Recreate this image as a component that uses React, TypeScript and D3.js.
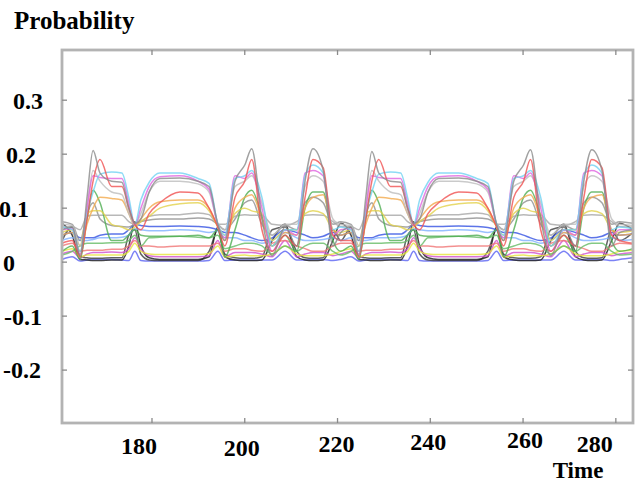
import React from 'react';
import * as d3 from 'd3';

const W = 638;
const H = 482;

// time knots (two repeating cycles)
const timeKnots = [
  160.6, 162.8, 164.5, 166.0, 167.3, 168.8, 171.3, 173.5, 175.0, 176.3, 177.6, 179.4, 181.7, 186.0, 189.9,
  192.3, 194.2, 195.7, 197.9, 200.0, 201.5, 203.7, 205.9, 208.7, 211.2, 213.0, 214.7, 216.9, 219.0, 220.7,
  222.9, 224.6, 226.1, 227.4, 228.9, 231.4, 233.6, 235.1, 236.4, 237.7, 239.5, 241.8, 246.1, 250.0, 252.4,
  254.3, 255.8, 258.0, 260.1, 261.6, 263.8, 266.0, 268.8, 271.3, 273.1, 274.8, 277.0, 279.1, 280.8, 283.7,
];

const sSpike = [
  0.060, 0.065, 0.012, 0.120, 0.207, 0.165, 0.150, 0.148, 0.100, 0.072, 0.080, 0.130, 0.155, 0.156, 0.150,
  0.140, 0.070, 0.040, 0.150, 0.180, 0.210, 0.080, 0.012, 0.065, 0.030, 0.150, 0.210, 0.170, 0.030, 0.055,
  0.065, 0.012, 0.120, 0.205, 0.165, 0.150, 0.148, 0.100, 0.072, 0.080, 0.130, 0.155, 0.156, 0.150, 0.140,
  0.070, 0.040, 0.150, 0.180, 0.208, 0.080, 0.012, 0.065, 0.030, 0.150, 0.208, 0.170, 0.030, 0.055, 0.060,
];
const sRed = [
  0.035, 0.040, 0.010, 0.080, 0.150, 0.190, 0.140, 0.140, 0.100, 0.070, 0.060, 0.090, 0.110, 0.130, 0.128,
  0.100, 0.065, 0.030, 0.120, 0.150, 0.190, 0.060, 0.020, 0.050, 0.030, 0.120, 0.190, 0.175, 0.050, 0.040,
  0.040, 0.010, 0.080, 0.150, 0.190, 0.140, 0.140, 0.100, 0.070, 0.060, 0.090, 0.110, 0.130, 0.128, 0.100,
  0.065, 0.030, 0.120, 0.150, 0.190, 0.060, 0.020, 0.050, 0.030, 0.120, 0.190, 0.175, 0.050, 0.040, 0.035,
];
const sCyan = [
  0.065, 0.060, 0.020, 0.090, 0.130, 0.163, 0.167, 0.165, 0.120, 0.070, 0.115, 0.148, 0.165, 0.165, 0.155,
  0.146, 0.070, 0.050, 0.155, 0.160, 0.170, 0.120, 0.030, 0.060, 0.060, 0.160, 0.180, 0.165, 0.060, 0.065,
  0.060, 0.020, 0.090, 0.130, 0.163, 0.167, 0.165, 0.120, 0.070, 0.115, 0.148, 0.165, 0.165, 0.155, 0.146,
  0.070, 0.050, 0.155, 0.160, 0.170, 0.120, 0.030, 0.060, 0.060, 0.160, 0.180, 0.165, 0.060, 0.065, 0.062,
];
const sMagenta = [
  0.060, 0.062, 0.015, 0.100, 0.160, 0.157, 0.155, 0.155, 0.110, 0.068, 0.100, 0.140, 0.158, 0.160, 0.150,
  0.135, 0.068, 0.045, 0.160, 0.155, 0.165, 0.100, 0.020, 0.060, 0.050, 0.165, 0.170, 0.160, 0.050, 0.060,
  0.062, 0.015, 0.100, 0.160, 0.157, 0.155, 0.155, 0.110, 0.068, 0.100, 0.140, 0.158, 0.160, 0.150, 0.135,
  0.068, 0.045, 0.160, 0.155, 0.165, 0.100, 0.020, 0.060, 0.050, 0.165, 0.170, 0.160, 0.050, 0.060, 0.060,
];
const sGrayLight = [
  0.070, 0.068, 0.030, 0.100, 0.170, 0.150, 0.130, 0.125, 0.090, 0.070, 0.090, 0.130, 0.150, 0.150, 0.145,
  0.130, 0.072, 0.060, 0.140, 0.150, 0.160, 0.110, 0.050, 0.070, 0.070, 0.140, 0.160, 0.150, 0.080, 0.070,
  0.068, 0.030, 0.100, 0.170, 0.150, 0.130, 0.125, 0.090, 0.070, 0.090, 0.130, 0.150, 0.150, 0.145, 0.130,
  0.072, 0.060, 0.140, 0.150, 0.160, 0.110, 0.050, 0.070, 0.070, 0.140, 0.160, 0.150, 0.080, 0.070, 0.068,
];
const sOrange = [
  0.050, 0.055, 0.020, 0.070, 0.100, 0.120, 0.118, 0.115, 0.090, 0.068, 0.080, 0.100, 0.112, 0.115, 0.115,
  0.100, 0.065, 0.040, 0.100, 0.120, 0.125, 0.080, 0.030, 0.055, 0.050, 0.100, 0.120, 0.125, 0.060, 0.050,
  0.055, 0.020, 0.070, 0.100, 0.120, 0.118, 0.115, 0.090, 0.068, 0.080, 0.100, 0.112, 0.115, 0.115, 0.100,
  0.065, 0.040, 0.100, 0.120, 0.125, 0.080, 0.030, 0.055, 0.050, 0.100, 0.120, 0.125, 0.060, 0.050, 0.052,
];
const sYellow = [
  0.055, 0.060, 0.030, 0.090, 0.095, 0.095, 0.070, 0.065, 0.060, 0.065, 0.075, 0.085, 0.100, 0.108, 0.110,
  0.095, 0.066, 0.050, 0.090, 0.100, 0.095, 0.090, 0.040, 0.060, 0.060, 0.090, 0.095, 0.090, 0.060, 0.055,
  0.060, 0.030, 0.090, 0.095, 0.095, 0.070, 0.065, 0.060, 0.065, 0.075, 0.085, 0.100, 0.108, 0.110, 0.095,
  0.066, 0.050, 0.090, 0.100, 0.095, 0.090, 0.040, 0.060, 0.060, 0.090, 0.095, 0.090, 0.060, 0.055, 0.058,
];
const sGreen = [
  0.020, 0.030, 0.005, 0.080, 0.133, 0.110, 0.040, 0.040, 0.050, 0.060, 0.050, 0.048, 0.048, 0.048, 0.050,
  0.045, 0.060, 0.010, 0.060, 0.120, 0.133, 0.085, 0.030, 0.050, 0.020, 0.100, 0.130, 0.130, 0.040, 0.020,
  0.030, 0.005, 0.080, 0.133, 0.110, 0.040, 0.040, 0.050, 0.060, 0.050, 0.048, 0.048, 0.048, 0.050, 0.045,
  0.060, 0.010, 0.060, 0.120, 0.133, 0.085, 0.030, 0.050, 0.020, 0.100, 0.130, 0.130, 0.040, 0.020, 0.025,
];
const sGrayFlat = [
  0.065, 0.066, 0.060, 0.085, 0.087, 0.087, 0.087, 0.087, 0.075, 0.070, 0.075, 0.085, 0.088, 0.088, 0.091,
  0.088, 0.070, 0.070, 0.085, 0.088, 0.087, 0.087, 0.070, 0.068, 0.075, 0.087, 0.088, 0.087, 0.075, 0.066,
  0.066, 0.060, 0.085, 0.087, 0.087, 0.087, 0.087, 0.075, 0.070, 0.075, 0.085, 0.088, 0.088, 0.091, 0.088,
  0.070, 0.070, 0.085, 0.088, 0.087, 0.087, 0.070, 0.068, 0.075, 0.087, 0.088, 0.087, 0.075, 0.066, 0.065,
];
const sGrayOval = [
  0.075, 0.070, 0.040, 0.090, 0.110, 0.080, 0.068, 0.066, 0.065, 0.070, 0.075, 0.078, 0.080, 0.080, 0.082,
  0.080, 0.070, 0.060, 0.080, 0.110, 0.115, 0.070, 0.050, 0.068, 0.060, 0.110, 0.120, 0.110, 0.070, 0.075,
  0.070, 0.040, 0.090, 0.110, 0.080, 0.068, 0.066, 0.065, 0.070, 0.075, 0.078, 0.080, 0.080, 0.082, 0.080,
  0.070, 0.060, 0.080, 0.110, 0.115, 0.070, 0.050, 0.068, 0.060, 0.110, 0.120, 0.110, 0.070, 0.075, 0.072,
];
const sBlue = [
  0.050, 0.055, 0.045, 0.045, 0.045, 0.050, 0.052, 0.052, 0.060, 0.070, 0.068, 0.066, 0.066, 0.067, 0.066,
  0.064, 0.060, 0.055, 0.055, 0.050, 0.045, 0.040, 0.045, 0.060, 0.055, 0.050, 0.045, 0.048, 0.055, 0.050,
  0.055, 0.045, 0.045, 0.045, 0.050, 0.052, 0.052, 0.060, 0.070, 0.068, 0.066, 0.066, 0.067, 0.066, 0.064,
  0.060, 0.055, 0.055, 0.050, 0.045, 0.040, 0.045, 0.060, 0.055, 0.050, 0.045, 0.048, 0.055, 0.050, 0.052,
];
const sLightBlue = [
  0.040, 0.045, 0.040, 0.040, 0.042, 0.045, 0.045, 0.046, 0.050, 0.062, 0.060, 0.058, 0.058, 0.060, 0.058,
  0.055, 0.058, 0.045, 0.045, 0.040, 0.040, 0.035, 0.040, 0.055, 0.045, 0.040, 0.040, 0.042, 0.045, 0.040,
  0.045, 0.040, 0.040, 0.042, 0.045, 0.045, 0.046, 0.050, 0.062, 0.060, 0.058, 0.058, 0.060, 0.058, 0.055,
  0.058, 0.045, 0.045, 0.040, 0.040, 0.035, 0.040, 0.055, 0.045, 0.040, 0.040, 0.042, 0.045, 0.040, 0.042,
];
const sGreen2 = [
  0.013, 0.020, 0.030, 0.035, 0.035, 0.035, 0.036, 0.036, 0.040, 0.050, 0.030, 0.045, 0.046, 0.048, 0.046,
  0.045, 0.050, 0.025, 0.030, 0.035, 0.035, 0.030, 0.015, 0.030, 0.020, 0.030, 0.035, 0.035, 0.020, 0.013,
  0.020, 0.030, 0.035, 0.035, 0.035, 0.036, 0.036, 0.040, 0.050, 0.030, 0.045, 0.046, 0.048, 0.046, 0.045,
  0.050, 0.025, 0.030, 0.035, 0.035, 0.030, 0.015, 0.030, 0.020, 0.030, 0.035, 0.035, 0.020, 0.013, 0.015,
];
const sRed2 = [
  0.030, 0.035, 0.020, 0.022, 0.022, 0.022, 0.024, 0.024, 0.030, 0.040, 0.030, 0.030, 0.028, 0.030, 0.030,
  0.030, 0.035, 0.020, 0.025, 0.025, 0.022, 0.020, 0.035, 0.040, 0.030, 0.025, 0.020, 0.020, 0.030, 0.035,
  0.035, 0.020, 0.022, 0.022, 0.022, 0.024, 0.024, 0.030, 0.040, 0.030, 0.030, 0.028, 0.030, 0.030, 0.030,
  0.035, 0.020, 0.025, 0.025, 0.022, 0.020, 0.035, 0.040, 0.030, 0.025, 0.020, 0.020, 0.030, 0.035, 0.033,
];
const sYellow2 = [
  0.020, 0.025, 0.010, 0.013, 0.013, 0.013, 0.013, 0.013, 0.020, 0.035, 0.020, 0.015, 0.014, 0.014, 0.014,
  0.016, 0.030, 0.010, 0.012, 0.013, 0.012, 0.012, 0.015, 0.030, 0.015, 0.012, 0.012, 0.012, 0.015, 0.020,
  0.025, 0.010, 0.013, 0.013, 0.013, 0.013, 0.013, 0.020, 0.035, 0.020, 0.015, 0.014, 0.014, 0.014, 0.016,
  0.030, 0.010, 0.012, 0.013, 0.012, 0.012, 0.015, 0.030, 0.015, 0.012, 0.012, 0.012, 0.015, 0.020, 0.022,
];
const sMagenta2 = [
  0.015, 0.020, 0.008, 0.015, 0.018, 0.018, 0.019, 0.018, 0.025, 0.045, 0.025, 0.012, 0.010, 0.010, 0.010,
  0.012, 0.040, 0.010, 0.018, 0.018, 0.018, 0.015, 0.010, 0.040, 0.010, 0.015, 0.018, 0.018, 0.012, 0.015,
  0.020, 0.008, 0.015, 0.018, 0.018, 0.019, 0.018, 0.025, 0.045, 0.025, 0.012, 0.010, 0.010, 0.010, 0.012,
  0.040, 0.010, 0.018, 0.018, 0.018, 0.015, 0.010, 0.040, 0.010, 0.015, 0.018, 0.018, 0.012, 0.015, 0.018,
];
const sBlack = [
  0.072, 0.050, 0.005, 0.004, 0.003, 0.003, 0.004, 0.004, 0.030, 0.075, 0.030, 0.008, 0.005, 0.005, 0.005,
  0.010, 0.065, 0.010, 0.004, 0.003, 0.003, 0.004, 0.040, 0.070, 0.010, 0.004, 0.003, 0.004, 0.040, 0.072,
  0.050, 0.005, 0.004, 0.003, 0.003, 0.004, 0.004, 0.030, 0.075, 0.030, 0.008, 0.005, 0.005, 0.005, 0.010,
  0.065, 0.010, 0.004, 0.003, 0.003, 0.004, 0.040, 0.070, 0.010, 0.004, 0.003, 0.004, 0.040, 0.072, 0.060,
];
const sBlack2 = [
  0.040, 0.065, 0.010, 0.008, 0.007, 0.007, 0.008, 0.008, 0.050, 0.060, 0.015, 0.004, 0.003, 0.003, 0.003,
  0.020, 0.060, 0.015, 0.008, 0.007, 0.007, 0.010, 0.060, 0.065, 0.020, 0.008, 0.007, 0.008, 0.060, 0.040,
  0.065, 0.010, 0.008, 0.007, 0.007, 0.008, 0.008, 0.050, 0.060, 0.015, 0.004, 0.003, 0.003, 0.003, 0.020,
  0.060, 0.015, 0.008, 0.007, 0.007, 0.010, 0.060, 0.065, 0.020, 0.008, 0.007, 0.008, 0.060, 0.040, 0.055,
];
const sBlue2 = [
  0.005, 0.010, 0.002, 0.004, 0.005, 0.005, 0.005, 0.004, 0.003, 0.020, 0.003, 0.002, 0.002, 0.002, 0.002,
  0.003, 0.020, 0.003, 0.004, 0.004, 0.004, 0.004, 0.004, 0.020, 0.004, 0.004, 0.005, 0.005, 0.003, 0.005,
  0.010, 0.002, 0.004, 0.005, 0.005, 0.005, 0.004, 0.003, 0.020, 0.003, 0.002, 0.002, 0.002, 0.002, 0.003,
  0.020, 0.003, 0.004, 0.004, 0.004, 0.004, 0.004, 0.020, 0.004, 0.004, 0.005, 0.005, 0.003, 0.005, 0.008,
];

const seriesList = [
  { values: sBlue2, color: '#5b63f2' },
  { values: sBlack2, color: '#3c3c3c' },
  { values: sBlack, color: '#1c1c1c' },
  { values: sMagenta2, color: '#cf4fcf' },
  { values: sYellow2, color: '#e6e43c' },
  { values: sRed2, color: '#f07474' },
  { values: sGreen2, color: '#66bb66' },
  { values: sLightBlue, color: '#7fb0ff' },
  { values: sBlue, color: '#3553e2' },
  { values: sGrayOval, color: '#8e8e8e' },
  { values: sGrayFlat, color: '#a6a6a6' },
  { values: sGreen, color: '#4fae52' },
  { values: sYellow, color: '#e2d24c' },
  { values: sOrange, color: '#f2aa4e' },
  { values: sGrayLight, color: '#bdbdbd' },
  { values: sMagenta, color: '#e066e0' },
  { values: sCyan, color: '#72d2f2' },
  { values: sRed, color: '#f05252' },
  { values: sSpike, color: '#8a8a8a' },
];

const xTicks = [180, 200, 220, 240, 260, 280];
const yTicks = [-0.2, -0.1, 0, 0.1, 0.2, 0.3];
const yTickLabels = ['-0.2', '-0.1', '0', '0.1', '0.2', '0.3'];

// layout: the labels in the picture are pasted a little off their ticks
const xLabelNudge = [-13, -3, -1, -2, 2, -21];
const xLabelBase = [454, 456, 452, 450, 448, 452];
const yLabelEnd = [41, 42, 15, 29, 36, 43];

export default function App() {
  const left = 62, right = 633, top = 50, bottom = 423;
  const x = d3.scaleLinear().domain([160.6, 283.7]).range([left, right]);
  const y = d3.scaleLinear().domain([-0.298, 0.393]).range([bottom, top]);

  const line = d3.line<[number, number]>()
    .defined(d => d[1] !== undefined)
    .x(d => x(d[0]))
    .y(d => y(d[1]))
    .curve(d3.curveMonotoneX);

  const font = { fontFamily: '"Liberation Serif", "Times New Roman", serif', fontWeight: 700 as const };

  return (
    <svg width={W} height={H} style={{ position: 'absolute', left: 0, top: 0, background: '#fff' }}>
      <defs>
        <clipPath id="plotclip">
          <rect x={left} y={top} width={right - left} height={bottom - top} />
        </clipPath>
        <filter id="soft" x="-5%" y="-5%" width="110%" height="110%">
          <feGaussianBlur stdDeviation="0.45" />
        </filter>
      </defs>

      <text x={14} y={29} fontSize={25} {...font}>Probability</text>

      <g clipPath="url(#plotclip)">
        <g filter="url(#soft)">
          {seriesList.map((s, i) => (
            <path
              key={i}
              d={line(timeKnots.map((t, j) => [t, s.values[j]] as [number, number])) || ''}
              fill="none"
              stroke={s.color}
              strokeWidth={1.5}
              strokeOpacity={0.8}
              strokeLinejoin="round"
            />
          ))}
        </g>
      </g>

      {/* frame */}
      <rect x={left} y={top} width={right - left} height={bottom - top} fill="none" stroke="#b3b3b3" strokeWidth={2.8} />

      {/* ticks */}
      {xTicks.map(t => (
        <g key={t} stroke="#8a8a8a" strokeWidth={1.3}>
          <line x1={x(t)} x2={x(t)} y1={bottom} y2={bottom - 5} />
          <line x1={x(t)} x2={x(t)} y1={top} y2={top + 5} />
        </g>
      ))}
      {yTicks.map(t => (
        <g key={t} stroke="#8a8a8a" strokeWidth={1.3}>
          <line x1={left} x2={left + 5} y1={y(t)} y2={y(t)} />
          <line x1={right} x2={right - 5} y1={y(t)} y2={y(t)} />
        </g>
      ))}

      {/* tick labels */}
      {xTicks.map((t, i) => (
        <text key={t} x={x(t) + xLabelNudge[i]} y={xLabelBase[i]} fontSize={24} textAnchor="middle" {...font}>
          {t}
        </text>
      ))}
      {yTicks.map((t, i) => (
        <text key={t} x={yLabelEnd[i]} y={y(t)} dy="0.35em" fontSize={24} textAnchor="end" {...font}>
          {yTickLabels[i]}
        </text>
      ))}

      <text x={578} y={478} fontSize={23} textAnchor="middle" {...font}>Time</text>
    </svg>
  );
}
